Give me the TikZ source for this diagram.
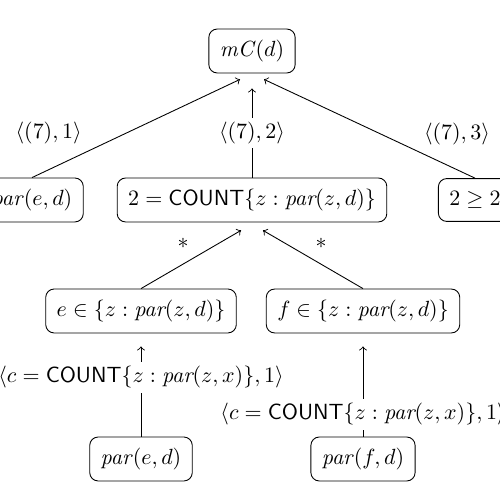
\documentclass[tikz,border=0pt]{standalone}
\usepackage{amssymb}
\usetikzlibrary{positioning, calc}

\begin{document}
\begin{tikzpicture}[
  box/.style={draw, rounded corners=3.8pt, inner sep=5pt, minimum height=19.5pt},
  link/.style={->},
  tag/.style={fill=white, inner sep=2pt}]
  \useasboundingbox (0,0) rectangle (8,8);

  % root and first level
  \node[box] (mc) at (4.032,7.184) {\textit{mC}$(d)$};
  \node[box] (pared) at (0.512,4.8) {\textit{par}$(e,d)$};
  \node[box] (count) at (4.032,4.8) {$2 = \textsf{COUNT}\{z : \textit{par}(z,d)\}$};
  \node[box] (geq) at (7.6,4.8) {$2 \geq 2$};

  % second level
  \node[box] (ein) at (2.256,3.024) {$e \in \{z : \textit{par}(z,d)\}$};
  \node[box] (fin) at (5.808,3.024) {$f \in \{z : \textit{par}(z,d)\}$};

  % leaves
  \node[box] (leafe) at (2.256,0.656) {\textit{par}$(e,d)$};
  \node[box] (leaff) at (5.808,0.656) {\textit{par}$(f,d)$};

  % arrow ends just below the parents
  \coordinate (mcl) at ($(mc.south)+(-0.192,-0.096)$);
  \coordinate (mcm) at ($(mc.south)+(0,-0.24)$);
  \coordinate (mcr) at ($(mc.south)+(0.192,-0.096)$);
  \coordinate (countl) at ($(count.south)+(-0.176,-0.128)$);
  \coordinate (countr) at ($(count.south)+(0.176,-0.128)$);
  \coordinate (eintip) at ($(ein.south)+(0,-0.208)$);
  \coordinate (fintip) at ($(fin.south)+(0,-0.208)$);

  \draw[link] (pared.north) -- node[pos=0.45, left=0.58cm] {$\langle(7),1\rangle$} (mcl);
  \draw[link] (count.north) -- node[tag, midway] {$\langle(7),2\rangle$} (mcm);
  \draw[link] (geq.north) -- node[pos=0.45, right=0.58cm] {$\langle(7),3\rangle$} (mcr);

  \draw[link] (ein.north) -- node[midway, xshift=-0.128cm, yshift=0.256cm] {$*$} (countl);
  \draw[link] (fin.north) -- node[midway, xshift=0.128cm, yshift=0.256cm] {$*$} (countr);

  \draw[link] (leafe.north) -- node[tag, pos=0.656] {$\langle c = \textsf{COUNT}\{z : \textit{par}(z,x)\}, 1\rangle$} (eintip);
  \draw[link] (leaff.north) -- node[tag, pos=0.247] {$\langle c = \textsf{COUNT}\{z : \textit{par}(z,x)\}, 1\rangle$} (fintip);
\end{tikzpicture}
\end{document}
